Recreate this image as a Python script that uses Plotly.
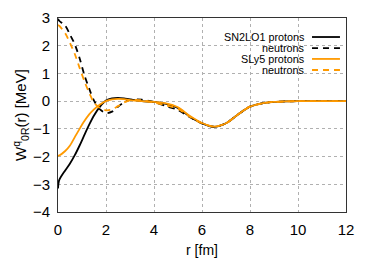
import plotly.graph_objects as go

r = [0, 0.05, 0.3, 0.5, 0.7, 0.9, 1.1, 1.3, 1.5, 1.75, 2.0, 2.25, 2.5, 2.75, 3.0,
     3.5, 4.0, 4.5, 5.0, 5.5, 6.0, 6.5, 7.0, 7.5, 8.0, 8.5, 9.0, 9.5, 10, 11, 12]

sn2lo1_protons = [-3.15, -2.85, -2.5, -2.25, -1.95, -1.6, -1.22, -0.85, -0.52, -0.2, 0.02,
                  0.1, 0.12, 0.1, 0.06, 0.0, -0.03, -0.1, -0.25, -0.56, -0.8, -0.93,
                  -0.8, -0.48, -0.2, -0.08, -0.03, -0.01, 0, 0, 0]
sn2lo1_neutrons = [2.97, 2.9, 2.72, 2.4, 2.05, 1.55, 0.94, 0.45, 0.02, -0.3, -0.43,
                   -0.38, -0.2, -0.05, 0.05, 0.05, -0.03, -0.18, -0.32, -0.58, -0.8, -0.92,
                   -0.8, -0.48, -0.2, -0.08, -0.03, -0.01, 0, 0, 0]
sly5_protons = [-1.97, -1.96, -1.8, -1.6, -1.3, -1.0, -0.72, -0.48, -0.3, -0.12, 0.0,
                0.06, 0.08, 0.07, 0.04, 0.0, -0.03, -0.08, -0.22, -0.54, -0.79, -0.92,
                -0.8, -0.48, -0.2, -0.08, -0.03, -0.01, 0, 0, 0]
sly5_neutrons = [2.75, 2.72, 2.45, 2.1, 1.7, 1.2, 0.72, 0.3, -0.05, -0.25, -0.33,
                 -0.3, -0.18, -0.05, 0.03, 0.03, -0.05, -0.15, -0.28, -0.57, -0.8, -0.92,
                 -0.8, -0.48, -0.2, -0.08, -0.03, -0.01, 0, 0, 0]

legend_labels = ["SN2LO1 protons", "neutrons", "SLy5 protons", "neutrons"]

BLACK = "#000000"
ORANGE = "#FF9A00"
DASH = "6px,5px"

series = [
    (sn2lo1_protons, BLACK, "solid"),
    (sn2lo1_neutrons, BLACK, DASH),
    (sly5_protons, ORANGE, "solid"),
    (sly5_neutrons, ORANGE, DASH),
]

fig = go.Figure()
for (vals, col, dash), name in zip(series, legend_labels):
    fig.add_trace(go.Scatter(x=r, y=vals, mode="lines", name=name,
                             line=dict(color=col, width=1.8, dash=dash,
                                       shape="spline", smoothing=0.8),
                             showlegend=False))

# manual legend (text on left, sample line on right, gnuplot-style)
row_y = [0.902, 0.845, 0.789, 0.732]
for (vals, col, dash), name, yy in zip(series, legend_labels, row_y):
    fig.add_annotation(x=0.86, y=yy, xref="paper", yref="paper", text=name,
                       showarrow=False, xanchor="right", yanchor="middle",
                       font=dict(size=10.8, color="#000"), borderpad=0)
    fig.add_shape(type="line", xref="paper", yref="paper", x0=0.882, x1=0.979,
                  y0=yy, y1=yy, line=dict(color=col, width=1.8, dash=dash))

axis_common = dict(showgrid=True, gridcolor="#b0b0b0", griddash="dot", gridwidth=1,
                   showline=True, linecolor="#333", linewidth=1, mirror=True,
                   zeroline=False, ticks="", automargin=False,
                   tickfont=dict(size=15, color="#000"))

# page body has an 8px margin, so the figure is sized to fit inside the window
fig.update_layout(
    width=366, height=254,
    margin=dict(l=50, r=28, t=10, b=50),
    plot_bgcolor="white", paper_bgcolor="white",
    font=dict(family="Liberation Sans, Arial, sans-serif", color="#000"),
    xaxis=dict(range=[0, 12], tickvals=[0, 2, 4, 6, 8, 10, 12], ticklabelstandoff=4,
               title=dict(text="r [fm]", font=dict(size=14), standoff=8),
               **axis_common),
    yaxis=dict(range=[-4, 3], tickvals=[-4, -3, -2, -1, 0, 1, 2, 3], ticklabelstandoff=4,
               title=dict(text="W<sup>q</sup><sub>0R</sub>(r) [MeV]", font=dict(size=15),
                          standoff=2),
               **axis_common),
)

fig.write_html("out.html")
